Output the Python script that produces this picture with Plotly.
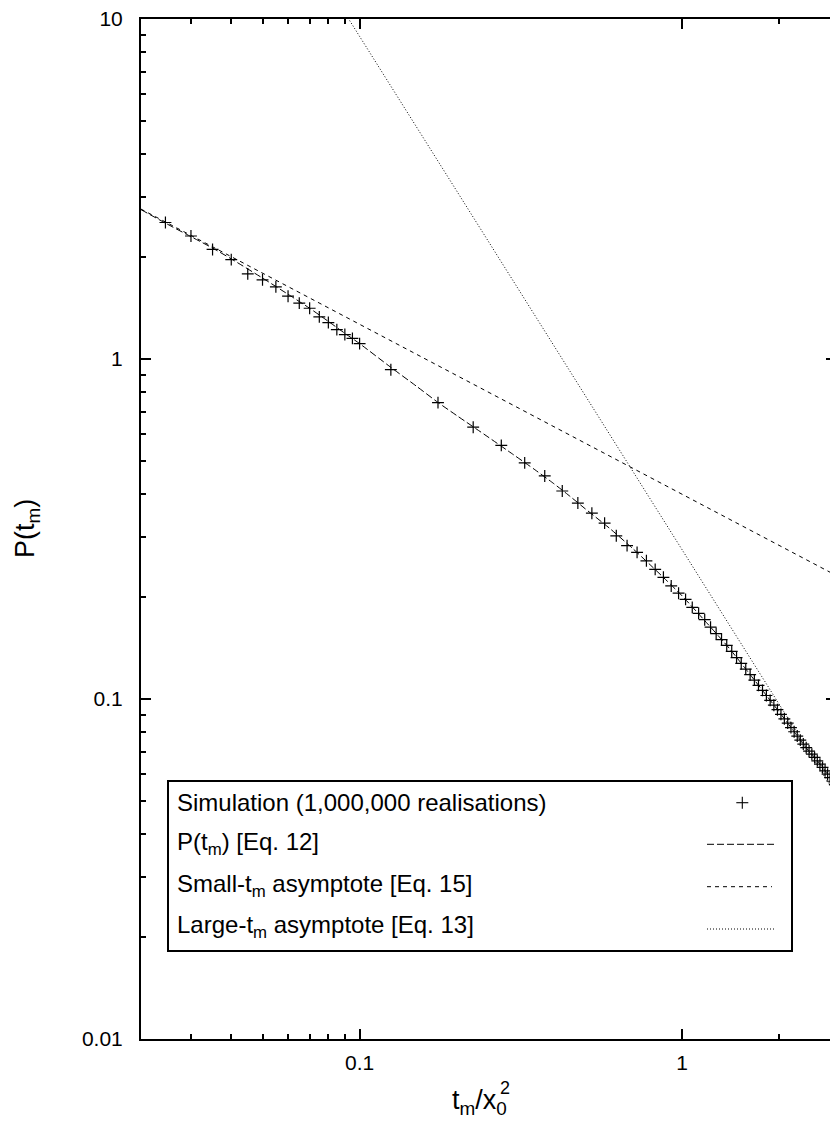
import plotly.graph_objects as go

# ---------------- data ----------------
sim_t = [0.025, 0.03, 0.035, 0.04, 0.045, 0.05, 0.055, 0.06, 0.065, 0.07,
         0.075, 0.08, 0.085, 0.09, 0.095, 0.1,
         0.125, 0.175, 0.225, 0.275, 0.325, 0.375, 0.425, 0.475, 0.525, 0.575,
         0.625, 0.675, 0.725, 0.775, 0.825, 0.875, 0.925, 0.975, 1.025, 1.075,
         1.125, 1.175, 1.225, 1.275, 1.325, 1.375, 1.425, 1.475, 1.525, 1.575,
         1.625, 1.675, 1.725, 1.775, 1.825, 1.875, 1.925, 1.975, 2.025, 2.075,
         2.125, 2.175, 2.225, 2.275, 2.325, 2.375, 2.425, 2.475, 2.525, 2.575,
         2.625, 2.675, 2.725, 2.775, 2.825, 2.875, 2.925, 2.975]
sim_p = [2.52, 2.30, 2.10, 1.96, 1.78, 1.71, 1.63, 1.53, 1.46, 1.41,
         1.33, 1.28, 1.22, 1.18, 1.15, 1.11,
         0.930, 0.744, 0.630, 0.557, 0.495, 0.453, 0.409, 0.377, 0.352, 0.329,
         0.302, 0.2825, 0.270, 0.255, 0.2406, 0.228, 0.215, 0.2047, 0.1963, 0.186,
         0.1787, 0.1711, 0.1626, 0.1558, 0.1495, 0.1437, 0.1380, 0.1324, 0.1272, 0.1224,
         0.1179, 0.1136, 0.1097, 0.1060, 0.1024, 0.0991, 0.0959, 0.0930, 0.0901, 0.0874,
         0.0849, 0.0824, 0.0801, 0.0778, 0.0757, 0.0737, 0.0719, 0.0703, 0.0688, 0.0673,
         0.0658, 0.0643, 0.0629, 0.0615, 0.0601, 0.0587, 0.0573, 0.0560]

theory_t = [0.021, 0.025, 0.03, 0.035, 0.04, 0.05, 0.06, 0.07, 0.08, 0.09, 0.1,
            0.125, 0.15, 0.175, 0.2, 0.25, 0.3, 0.35, 0.4, 0.45, 0.5, 0.6, 0.7,
            0.8, 0.9, 1.0, 1.2, 1.4, 1.6, 1.8, 2.0, 2.2, 2.4, 2.6, 2.8, 3.0]
theory_p = [2.75, 2.51, 2.29, 2.12, 1.97, 1.73, 1.55, 1.41, 1.29, 1.19, 1.11,
            0.945, 0.832, 0.745, 0.682, 0.590, 0.523, 0.472, 0.430, 0.394, 0.363,
            0.316, 0.278, 0.247, 0.222, 0.201, 0.1663, 0.1410, 0.1202, 0.1042,
            0.0916, 0.0813, 0.0727, 0.0666, 0.0608, 0.0554]

small_t = [0.021, 3.0]
small_p = [2.76, 0.231]
large_t = [0.09, 3.0]
large_p = [10.42, 0.0523]

x_range = [0.021, 3.0]
y_range = [0.01, 10]
x_tick_vals = [0.1, 1]
x_tick_text = ["0.1", "1"]
x_minor_vals = [0.03, 0.04, 0.05, 0.06, 0.07, 0.08, 0.09,
                2, 3, 4, 5, 6, 7, 8, 9, 20, 30]
y_tick_vals = [0.01, 0.1, 1, 10]
y_tick_text = ["0.01", "0.1", "1", "10"]
y_minor_vals = [m * d for d in (0.01, 0.1, 1) for m in (2, 3, 4, 5, 6, 7, 8, 9)]

legend_labels = ["Simulation (1,000,000 realisations)",
                 "P(t<sub>m</sub>) [Eq. 12]",
                 "Small-t<sub>m</sub> asymptote [Eq. 15]",
                 "Large-t<sub>m</sub> asymptote [Eq. 13]"]

# ---------------- figure ----------------
FONT = "Liberation Sans, Arial, Helvetica, sans-serif"
# the plot frame runs a few pixels past the 830-px window (its right border is cut off)
W, H = 836, 1121
ML, MR, MT, MB = 141, 0, 19, 1121 - 1039
PW, PH = W - ML - MR, H - MT - MB


def px(x):   # reference pixel -> paper
    return (x - ML) / PW


def py(y):
    return (H - MB - y) / PH


fig = go.Figure()

fig.add_trace(go.Scatter(x=theory_t, y=theory_p, mode="lines", name=legend_labels[1],
                         line=dict(color="black", width=1, dash="7px,3px",
                                   shape="spline", smoothing=0.6),
                         showlegend=False, hoverinfo="skip"))
fig.add_trace(go.Scatter(x=small_t, y=small_p, mode="lines", name=legend_labels[2],
                         line=dict(color="black", width=1, dash="4px,4px"),
                         showlegend=False, hoverinfo="skip"))
fig.add_trace(go.Scatter(x=large_t, y=large_p, mode="lines", name=legend_labels[3],
                         line=dict(color="black", width=1, dash="1px,2px"),
                         showlegend=False, hoverinfo="skip"))
fig.add_trace(go.Scatter(x=sim_t, y=sim_p, mode="markers", name=legend_labels[0],
                         marker=dict(symbol="cross-thin", size=8.5, color="black",
                                     line=dict(color="black", width=1.2)),
                         showlegend=False))

axis_common = dict(type="log", showgrid=False, zeroline=False, color="black",
                   ticks="inside", ticklen=10, tickwidth=2, tickcolor="black",
                   showline=True, linecolor="black", linewidth=2, automargin=False,
                   ticklabeloverflow="allow", mirror="ticks",
                   tickfont=dict(family=FONT, size=21, color="black"))

fig.update_layout(
    template="none",
    width=W, height=H, margin=dict(l=ML, r=MR, t=MT, b=MB, pad=0),
    paper_bgcolor="white", plot_bgcolor="white", showlegend=False,
    xaxis=dict(**axis_common, range=[-1.6778, 0.4771],
               tickmode="array", tickvals=x_tick_vals, ticktext=x_tick_text,
               ticklabelstandoff=4,
               minor=dict(ticks="inside", ticklen=5, tickwidth=1.5, tickcolor="black",
                          tickmode="array", tickvals=x_minor_vals)),
    yaxis=dict(**axis_common, range=[-2, 1],
               tickmode="array", tickvals=y_tick_vals, ticktext=y_tick_text,
               ticklabelstandoff=12,
               minor=dict(ticks="inside", ticklen=5, tickwidth=1.5, tickcolor="black",
                          tickmode="array", tickvals=y_minor_vals)),
)

# legend box (gnuplot style: text left, sample right)
fig.add_shape(type="rect", xref="paper", yref="paper",
              x0=px(168), x1=px(792), y0=py(951), y1=py(781),
              line=dict(color="black", width=2), fillcolor="rgba(0,0,0,0)")

row_y = [802.5, 843.8, 885.1, 926.4]
for lab, yy in zip(legend_labels, row_y):
    fig.add_annotation(text=lab, xref="paper", yref="paper", x=px(175), y=py(yy),
                       xanchor="left", yanchor="middle", showarrow=False,
                       font=dict(family=FONT, size=24, color="black"))

# sample: plus marker
pcx, pcy = px(742.3), py(802.7)
fig.add_shape(type="line", xref="paper", yref="paper", xsizemode="pixel", ysizemode="pixel",
              xanchor=pcx, yanchor=pcy, x0=-6, x1=6, y0=0, y1=0,
              line=dict(color="black", width=1.1))
fig.add_shape(type="line", xref="paper", yref="paper", xsizemode="pixel", ysizemode="pixel",
              xanchor=pcx, yanchor=pcy, x0=0, x1=0, y0=-6, y1=6,
              line=dict(color="black", width=1.1))
# sample lines
for (x1, yy, dash) in [(777, 844.3, "7px,3px"), (772, 886.7, "4px,4px"), (775, 929, "1px,2px")]:
    fig.add_shape(type="line", xref="paper", yref="paper",
                  x0=px(707), x1=px(x1), y0=py(yy), y1=py(yy),
                  line=dict(color="black", width=1, dash=dash))

# axis titles
fig.add_annotation(text="P(t<sub>m</sub>)", xref="paper", yref="paper",
                   x=px(27), y=py(528), xanchor="center", yanchor="middle",
                   textangle=-90, showarrow=False,
                   font=dict(family=FONT, size=27, color="black"))
fig.add_annotation(text="t<sub>m</sub>/x<sub>0</sub>", xref="paper", yref="paper",
                   x=px(450), y=py(1102), xanchor="left", yanchor="middle",
                   showarrow=False, font=dict(family=FONT, size=27, color="black"))
fig.add_annotation(text="2", xref="paper", yref="paper",
                   x=px(498), y=py(1088), xanchor="left", yanchor="middle",
                   showarrow=False, font=dict(family=FONT, size=18, color="black"))

fig.write_html("out.html",
               config={"displayModeBar": False},
               post_script="document.documentElement.style.overflow='hidden';"
                           "document.body.style.overflow='hidden';"
                           "document.body.style.margin='0';")
